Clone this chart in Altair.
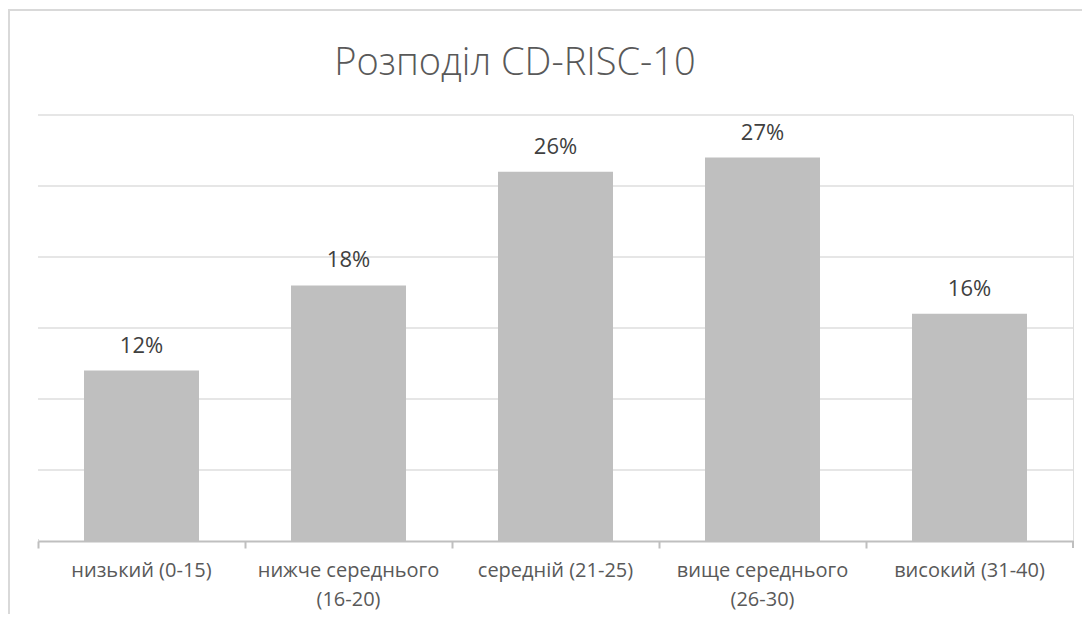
import altair as alt
import pandas as pd

categories = [
    "низький (0-15)",
    "нижче середнього\n(16-20)",
    "середній (21-25)",
    "вище середнього\n(26-30)",
    "високий (31-40)",
]
values = [12, 18, 26, 27, 16]
value_labels = ["12%", "18%", "26%", "27%", "16%"]
grid_values = [5, 10, 15, 20, 25, 30]
title_text = "Розподіл CD-RISC-10"

df = pd.DataFrame({"cat": categories, "val": values, "lbl": value_labels})
grid_df = pd.DataFrame({"val": grid_values})

W, H = 1035, 426
TEXT = "#595959"
AXIS_GRAY = "#bfbfbf"
yscale = alt.Scale(domain=[0, 30])

x_enc = alt.X(
    "cat:N",
    sort=categories,
    scale=alt.Scale(paddingInner=0, paddingOuter=0),
    axis=alt.Axis(
        title=None,
        labelAngle=0,
        labelExpr="split(datum.label, '\\n')",
        labelFont="Open Sans",
        labelFontSize=20,
        labelColor=TEXT,
        labelLineHeight=29,
        labelPadding=12,
        labelLimit=0,
        bandPosition=0,
        ticks=True,
        tickSize=7,
        tickColor=AXIS_GRAY,
        tickWidth=2,
        domain=True,
        domainColor=AXIS_GRAY,
        domainWidth=2,
        grid=False,
    ),
)
y_enc = alt.Y("val:Q", scale=yscale, axis=None)

grid = alt.Chart(grid_df).mark_rule(color="#e6e6e6", strokeWidth=2).encode(
    y=alt.Y("val:Q", scale=yscale, axis=None), x=alt.value(0), x2=alt.value(W)
)

bars = alt.Chart(df).mark_bar(
    color="#bfbfbf", width=alt.RelativeBandSize(band=0.5556)
).encode(x=x_enc, y=y_enc)

text = alt.Chart(df).mark_text(
    font="Open Sans", fontSize=22, color="#404040", baseline="alphabetic", dy=-18
).encode(x=x_enc, y=y_enc, text="lbl:N")

one = alt.Data(values=[{"a": 1}])
last_tick = alt.Chart(one).mark_rule(color=AXIS_GRAY, strokeWidth=2).encode(
    x=alt.value(W), x2=alt.value(W), y=alt.value(H), y2=alt.value(H + 7)
)
cover = alt.Chart(one).mark_rule(color="white", strokeWidth=3).encode(
    x=alt.value(0), x2=alt.value(0), y=alt.value(-1), y2=alt.value(H - 2)
)
border = alt.Chart(one).mark_rect(
    fill="transparent", stroke="#d9d9d9", strokeWidth=2
).encode(
    x=alt.value(-29), x2=alt.value(W + 60), y=alt.value(-105), y2=alt.value(H + 200)
)
title = alt.Chart(one).mark_text(
    text=title_text,
    font="Open Sans",
    fontSize=38,
    fontWeight=300,
    color=TEXT,
    baseline="alphabetic",
    align="center",
).encode(x=alt.value(477), y=alt.value(-40))

chart = (
    alt.layer(border, cover, grid, bars, text, last_tick, title)
    .properties(
        width=W,
        height=H,
        autosize=alt.AutoSizeParams(type="none"),
        padding={"left": 30, "top": 107, "right": 9, "bottom": 73},
    )
    .configure_view(strokeWidth=0, stroke="transparent")
    .configure(background="white")
)

chart.save("out.html", embed_options={"renderer": "svg", "actions": False})
